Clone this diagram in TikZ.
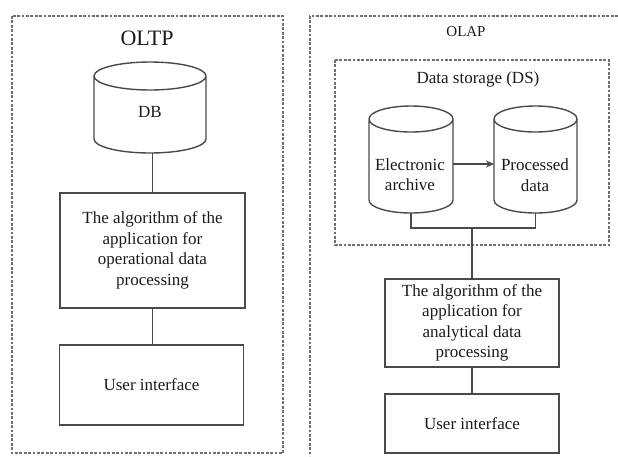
\documentclass[tikz,border=0pt]{standalone}
\usepackage{fontspec}
\setmainfont{Liberation Serif}
\usetikzlibrary{arrows.meta}

\definecolor{edge}{HTML}{4A4A4A}
\definecolor{frame}{HTML}{707070}
\definecolor{ink}{HTML}{1A1A1A}

\tikzset{
  ln/.style={draw=edge, line width=1.4pt},
  framebox/.style={draw=frame, line width=1.2pt, dash pattern=on 2.8pt off 1.6pt},
  txt/.style={text=ink, font=\fontsize{17}{20.5}\selectfont, align=center, inner sep=0pt},
  procbox/.style={ln, txt, minimum width=#1},
  cylspace/.style={inner sep=0pt, outer sep=0pt},
}

% #1 name, #2 centre x, #3 top y, #4 width, #5 height, #6 ellipse y radius
\newcommand\drumshape[6]{%
  \node[cylspace, minimum width=#4pt, minimum height=#5pt, anchor=north] (#1) at (#2,#3) {};
  \draw[ln] ([yshift=-#6pt]#1.north west) -- ([yshift=#6pt]#1.south west)
    arc[start angle=180, end angle=360, x radius=#4pt/2, y radius=#6pt]
    -- ([yshift=-#6pt]#1.north east)
    arc[start angle=0, end angle=360, x radius=#4pt/2, y radius=#6pt];
}

\begin{document}
\begin{tikzpicture}[x=1pt, y=1pt]
\useasboundingbox (0,0) rectangle (618,-456);

% ---------- OLTP ----------
\draw[framebox] (12,-16) rectangle (283,-453);
\node[txt, font=\fontsize{22}{26}\selectfont] (oltp) at (147,-38) {OLTP};

\drumshape{db}{150}{-62}{112}{91}{14}
\node[txt] (dbt) at (150,-112) {DB};

\node[procbox=185pt, minimum height=115pt] (alg1) at (152.5,-250.5)
  {The algorithm of the\\application for\\operational data\\processing};
\node[procbox=184pt, minimum height=80pt] (ui1) at (151.5,-385) {User interface};

\draw[ln] (alg1.north |- db.south) -- (alg1.north);
\draw[ln] (alg1.south) -- (ui1.north -| alg1.south);

% ---------- OLAP ----------
\draw[framebox] (618,-16) -- (310,-16) -- (310,-456);
\node[txt, font=\fontsize{15}{18}\selectfont] (olap) at (466,-32) {OLAP};

\draw[framebox] (335,-60) rectangle (609,-245);
\node[txt] (dst) at (478,-79) {Data storage (DS)};

\drumshape{ea}{411}{-106}{84}{107}{13}
\drumshape{pd}{535.5}{-106}{83}{107}{13}
\node[txt] (eat) at (410,-174.5) {Electronic\\archive};
\node[txt] (pdt) at (535,-175) {Processed\\data};

\coordinate (arrowy) at (0,-164);
\draw[ln, -{Stealth[length=8pt, width=7pt]}] (ea.east |- arrowy) -- (pd.west |- arrowy);

\node[procbox=174pt, minimum height=88pt] (alg2) at (472,-323)
  {The algorithm of the\\application for\\analytical data\\processing};
\node[procbox=174pt, minimum height=59pt] (ui2) at (472,-423.5) {User interface};

\coordinate (joiny) at (0,-228);
\draw[ln] (ea.south) -- (ea.south |- joiny) -- (pd.south |- joiny) -- (pd.south);
\draw[ln] (alg2.north |- joiny) -- (alg2.north);
\draw[ln] (alg2.south) -- (ui2.north);
\end{tikzpicture}
\end{document}
